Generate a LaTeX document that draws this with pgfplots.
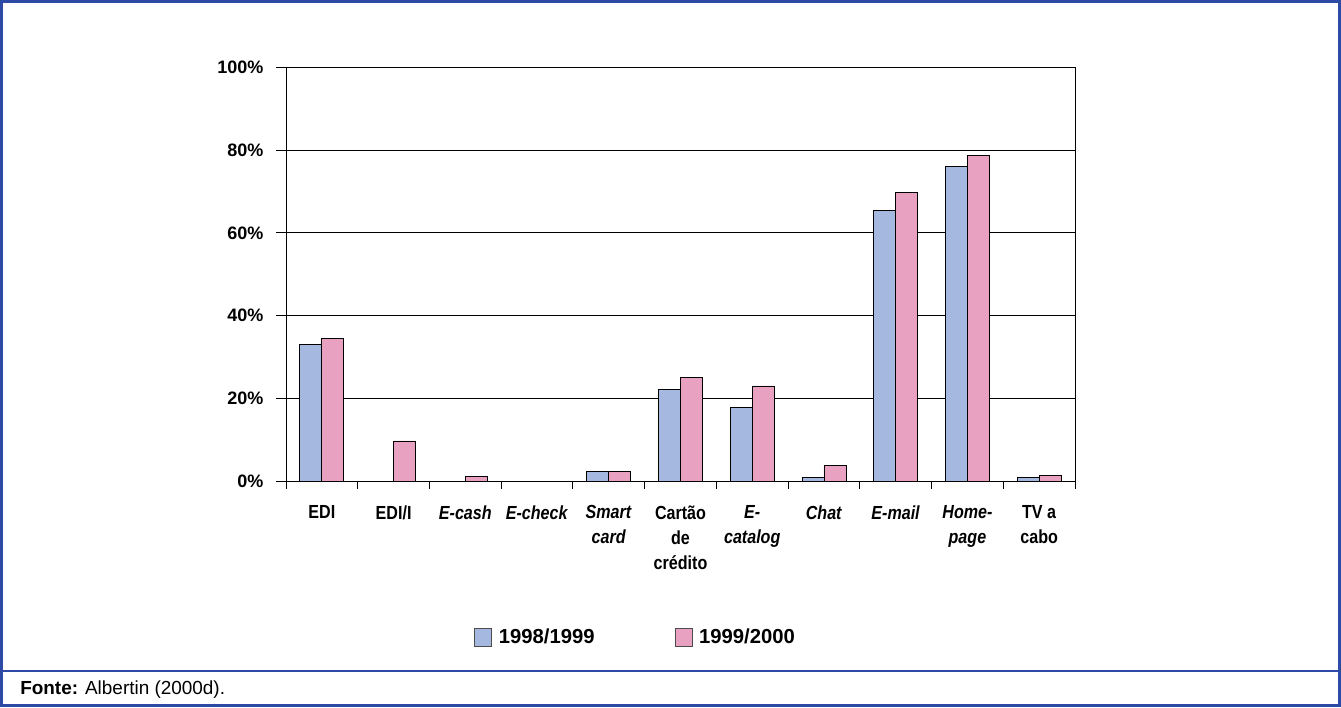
\documentclass[border=0pt]{standalone}
\usepackage{fontspec}
\setmainfont{Liberation Sans}
\newfontfamily\narrow{Liberation Sans}[FakeStretch=0.85]
\usepackage{pgfplots}
\pgfplotsset{compat=1.18}
\definecolor{barblue}{RGB}{165,184,224}
\definecolor{barpink}{RGB}{233,161,194}
\definecolor{frameblue}{RGB}{44,74,166}
\begin{document}
\begin{tikzpicture}
\begin{scope}[x=0.75pt,y=0.75pt]
\useasboundingbox (0,0) rectangle (1341,707);
\draw[frameblue,line width=2.25pt] (1.5,1.5) rectangle (1339.5,705.5);
\draw[frameblue,line width=1.5pt] (0,36) -- (1341,36);
\node[anchor=west,inner sep=0pt,font=\fontsize{14.2}{16}\selectfont] at (20,17) {\textbf{Fonte:} Albertin (2000d).};
\end{scope}
\begin{axis}[
  at={(214.5pt,169.5pt)}, anchor=south west,
  width=591.75pt, height=310pt, scale only axis,
  xmin=-0.5, xmax=10.5, ymin=0, ymax=100,
  ybar=0pt, bar width=16.5pt,
  xtick={0,...,10},
  minor xtick={-0.5,0.5,...,10.5},
  major x tick style={draw=none},
  minor tick length=6pt, major tick length=7.5pt,
  tick align=outside,
  xtick pos=bottom, ytick pos=left,
  xticklabels={EDI, EDI/I, \textit{E-cash}, \textit{E-check}, \textit{Smart}\\\textit{card}, Cartão\\de\\crédito, \textit{E-}\\\textit{catalog}, \textit{Chat}, \textit{E-mail}, \textit{Home-}\\\textit{page}, TV a\\cabo},
  xticklabel style={align=center, anchor=north, font=\narrow\bfseries\fontsize{14.2}{18.75}\selectfont, yshift=-7.5pt},
  ytick={0,20,...,100},
  yticklabels={0\%,20\%,40\%,60\%,80\%,100\%},
  yticklabel style={font=\bfseries\fontsize{13.5}{15}\selectfont, xshift=-6pt},
  ymajorgrids,
  grid style={black, line width=0.75pt},
  axis line style={black, line width=0.75pt},
  every tick/.style={black, line width=0.75pt},
  legend style={at={(0.4436,-0.3775)}, anchor=center, draw=none, fill=none, legend columns=2,
    font=\bfseries\fontsize{15.2}{17}\selectfont,
    /tikz/every even column/.append style={column sep=58pt}},
]
\addplot[fill=barblue, draw=black, line width=0.6pt,
  legend image code/.code={\draw[fill=barblue,draw=black!70,line width=0.6pt] (0pt,-6.75pt) rectangle (12.75pt,6.75pt); \path (15.75pt,0pt);}]
  coordinates {(0,33) (4,2.4) (5,22.2) (6,17.8) (7,0.8) (8,65.5) (9,76.0) (10,0.8)};
\addplot[fill=barpink, draw=black, line width=0.6pt,
  legend image code/.code={\draw[fill=barpink,draw=black!70,line width=0.6pt] (0pt,-6.75pt) rectangle (12.75pt,6.75pt); \path (15.75pt,0pt);}]
  coordinates {(0,34.4) (1,9.7) (2,1.1) (4,2.4) (5,25.1) (6,23.0) (7,3.7) (8,69.9) (9,78.8) (10,1.4)};
\legend{1998/1999, 1999/2000}
\end{axis}
\end{tikzpicture}
\end{document}
